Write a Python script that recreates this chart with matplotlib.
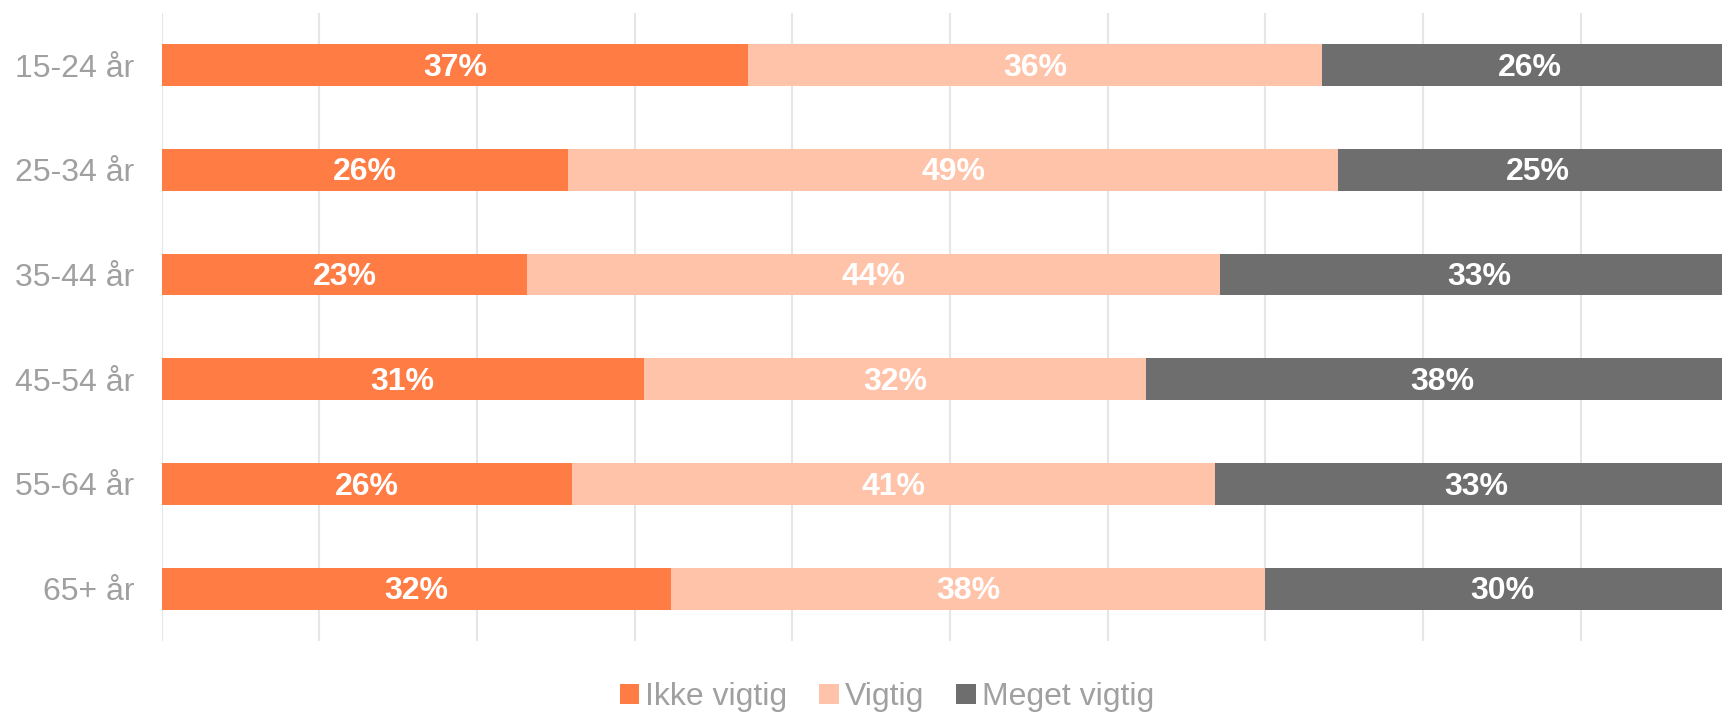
import matplotlib
matplotlib.use("Agg")
import matplotlib.pyplot as plt
from matplotlib.patches import Patch

categories = ["15-24 år", "25-34 år", "35-44 år", "45-54 år", "55-64 år", "65+ år"]
ikke_vigtig = [37.2, 25.8, 23.2, 30.6, 26.0, 32.3]
vigtig = [36.4, 48.8, 43.9, 31.8, 40.8, 37.7]
meget_vigtig = [26.4, 25.4, 32.9, 37.6, 33.2, 30.0]
series_names = ["Ikke vigtig", "Vigtig", "Meget vigtig"]
colors = ["#FF7C44", "#FFC3AA", "#6E6E6E"]

plt.rcParams["font.family"] = ["Liberation Sans", "DejaVu Sans"]

W, H = 1722, 712
fig = plt.figure(figsize=(W / 100, H / 100), dpi=100)
left = 161.5 / W
width = 1577 / W
bottom = 1 - 641 / H
height = (641 - 12.7) / H
ax = fig.add_axes([left, bottom, width, height])

y = list(range(len(categories)))
lefts = [0.0] * len(categories)
for name, vals, col in zip(series_names, [ikke_vigtig, vigtig, meget_vigtig], colors):
    ax.barh(y, vals, left=lefts, height=0.4, color=col, label=name, zorder=3)
    for yi, l, v in zip(y, lefts, vals):
        ax.text(l + v / 2, yi + 0.025, f"{v:.0f}%", ha="center", va="center",
                color="white", fontsize=23, fontweight="bold", zorder=4)
    lefts = [a + b for a, b in zip(lefts, vals)]

ax.set_xlim(0, 100)
ax.set_ylim(5.5, -0.5)
ax.set_xticks(range(0, 101, 10))
ax.xaxis.grid(True, color="#E6E6E6", linewidth=1.5, zorder=0)
ax.tick_params(axis="x", length=0, labelbottom=False)
ax.set_yticks(y)
ax.set_yticklabels(categories, fontsize=23, color="#A0A0A0")
ax.tick_params(axis="y", length=0, pad=19.5)
for s in ax.spines.values():
    s.set_visible(False)

handles = [Patch(facecolor=c, label=n) for n, c in zip(series_names, colors)]
leg = fig.legend(handles=handles, loc="center", bbox_to_anchor=(887 / W, 1 - 697 / H),
                 ncol=3, frameon=False, fontsize=23, handlelength=0.6, handleheight=0.6,
                 handletextpad=0.2, columnspacing=1.0, borderpad=0)
for t in leg.get_texts():
    t.set_color("#A0A0A0")

fig.savefig("out.png", dpi=100)
